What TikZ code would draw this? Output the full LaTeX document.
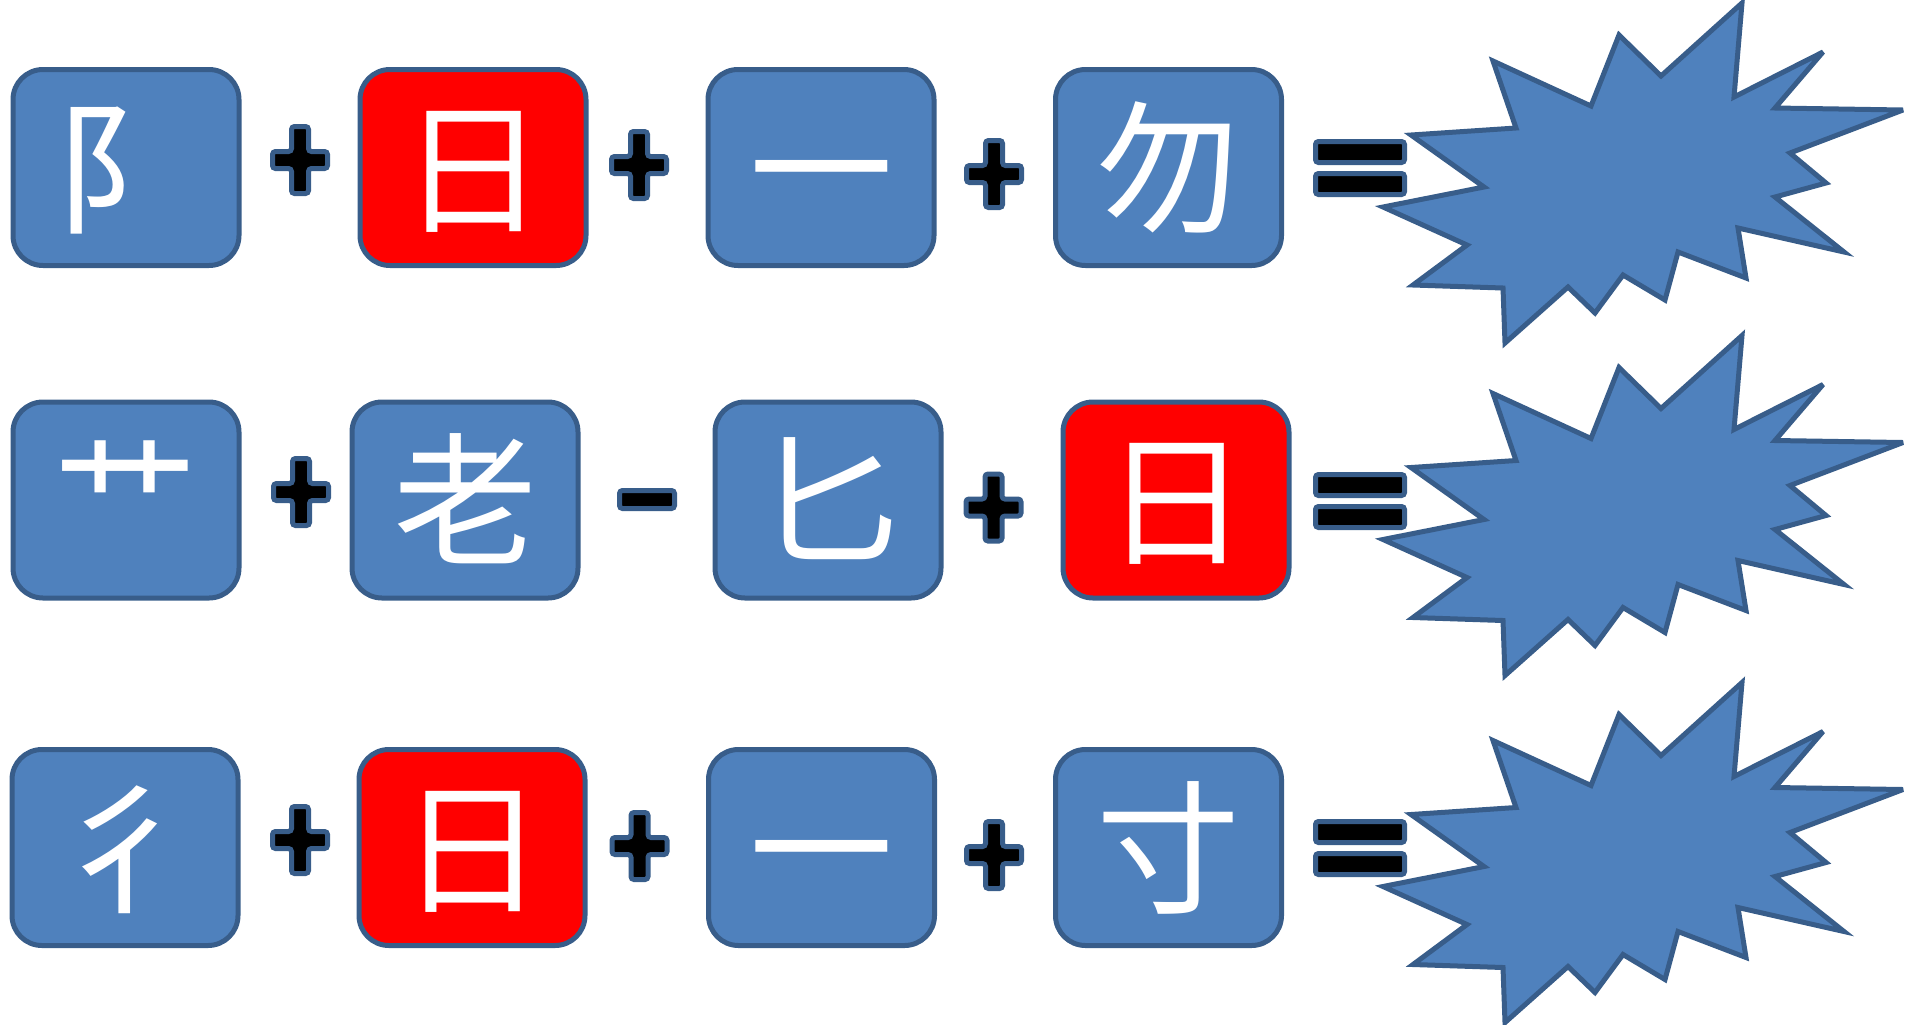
\documentclass[tikz,border=0pt]{standalone}
\usepackage{fontspec}
\newfontfamily\cjk{Noto Sans CJK JP}
\definecolor{boxblue}{HTML}{4F81BD}
\definecolor{edgeblue}{HTML}{385D8A}
\definecolor{boxred}{HTML}{FF0000}
\tikzset{
  glyphbox/.style={draw=edgeblue, line width=2.5pt, fill=boxblue, rounded corners=15pt,
    minimum width=113pt, minimum height=98pt, inner sep=0pt, text=white,
    font=\cjk\fontsize{72}{72}\selectfont, text height=63.36pt, text depth=8.64pt},
  redbox/.style={glyphbox, fill=boxred},
  opsign/.style={draw=edgeblue, line width=2.5pt, fill=black, rounded corners=1.5pt},
  burststyle/.style={draw=edgeblue, line width=2.5pt, fill=boxblue, line join=miter, miter limit=5},
  plussign/.pic={\draw[opsign] (-8.5,-33.5) -- ++(17,0) -- ++(0,25) -- ++(19,0) -- ++(0,17)
     -- ++(-19,0) -- ++(0,25) -- ++(-17,0) -- ++(0,-25) -- ++(-19,0) -- ++(0,-17) -- ++(19,0) -- cycle;},
  minussign/.pic={\draw[opsign] (-27.5,-9) rectangle (27.5,9);},
  equalsign/.pic={\draw[opsign] (-44.5,-26.5) rectangle (44.5,-5.5);
                  \draw[opsign] (-44.5,5.5) rectangle (44.5,26.5);},
  starburst/.pic={\draw[burststyle] (1493,61) -- (1516,128) -- (1411,135) -- (1484,187)
     -- (1383,207) -- (1467,245) -- (1413,285) -- (1503,288) -- (1505,343) -- (1568,287)
     -- (1595,313) -- (1623,275) -- (1665,300) -- (1678,252) -- (1746,278) -- (1738,228)
     -- (1844,252) -- (1775,197) -- (1826,183) -- (1790,153) -- (1903,110) -- (1775,108)
     -- (1823,52) -- (1734,97) -- (1742,3) -- (1661,76) -- (1619,35) -- (1591,106) -- cycle;}
}
\begin{document}
\begin{tikzpicture}[x=0.5pt, y=-0.5pt]
\useasboundingbox (0,0) rectangle (1917,1024);
% Row 1
\node[glyphbox] (a1) at (126,167.5) {阝};
\pic (pa1) at (300,160) {plussign};
\node[redbox] (a2) at (473,167.5) {日};
\pic (pa2) at (639,165) {plussign};
\node[glyphbox] (a3) at (821,167.5) {一};
\pic (pa3) at (994,174) {plussign};
\node[glyphbox] (a4) at (1168.5,167.5) {勿};
\pic (ea) at (1360,168) {equalsign};
\pic (sa) at (0,0) {starburst};
% Row 2
\node[glyphbox] (b1) at (126,500) {艹};
\pic (pb1) at (301,492) {plussign};
\node[glyphbox] (b2) at (465,500) {老};
\pic (mb2) at (647,499.5) {minussign};
\node[glyphbox] (b3) at (828,500) {匕};
\pic (pb3) at (993.5,507.5) {plussign};
\node[redbox] (b4) at (1176,500) {日};
\pic (eb) at (1360,501) {equalsign};
\pic (sb) at (0,332.5) {starburst};
% Row 3
\node[glyphbox] (c1) at (125,847.5) {彳};
\pic (pc1) at (300,840) {plussign};
\node[redbox] (c2) at (472,847.5) {日};
\pic (pc2) at (639.5,846) {plussign};
\node[glyphbox] (c3) at (821.5,847.5) {一};
\pic (pc3) at (994,855) {plussign};
\node[glyphbox] (c4) at (1168.5,847.5) {寸};
\pic (ec) at (1360,848) {equalsign};
\pic (sc) at (0,679.5) {starburst};
\end{tikzpicture}
\end{document}
